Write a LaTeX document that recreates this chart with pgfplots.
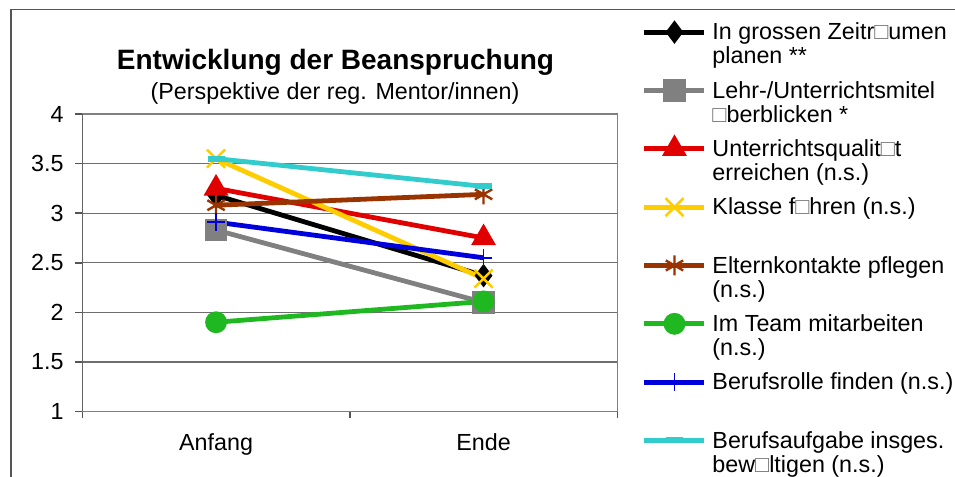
\documentclass[border=0pt]{standalone}
\usepackage{pgfplots}
\pgfplotsset{compat=1.18}
\usepackage{fontspec}
\setmainfont{Liberation Sans}

\definecolor{sGray}{HTML}{808080}
\definecolor{sRed}{HTML}{E00000}
\definecolor{sYellow}{HTML}{FFCC00}
\definecolor{sBrown}{HTML}{993300}
\definecolor{sGreen}{HTML}{20B820}
\definecolor{sBlue}{HTML}{0000DD}
\definecolor{sCyan}{HTML}{33CCCC}
\definecolor{frameC}{HTML}{555555}
\definecolor{gridC}{HTML}{6E6E6E}

% missing-glyph box as in the original export
\newcommand\bx{{\color{black!55}□}}
\newcommand\entry[1]{\parbox[t]{135pt}{#1}}

\begin{document}
\begin{tikzpicture}
\path[use as bounding box] (0,0) rectangle (477.5pt,238.5pt);
\draw[frameC, line width=0.75pt] (5.5pt,-5pt) -- (5.5pt,233.85pt) -- (485pt,233.85pt);

\node[anchor=base, font=\bfseries\fontsize{14}{16}\selectfont] at (167.75pt,203.5pt) {Entwicklung der Beanspruchung};
\node[anchor=base, font=\fontsize{11.65}{14}\selectfont] at (167.5pt,188.5pt) {(Perspektive der reg. Mentor/innen)};

\begin{axis}[
  at={(41.15pt,32.75pt)}, anchor=south west,
  scale only axis, width=267.5pt, height=148.75pt,
  xmin=-0.5, xmax=1.5, ymin=1, ymax=4,
  xtick={0,1}, xticklabels={Anfang,Ende},
  minor xtick={-0.5,0.5,1.5},
  ytick={1,1.5,2,2.5,3,3.5,4},
  tick align=outside, tick pos=left,
  major tick length=3.5pt, minor tick length=3.5pt,
  major x tick style={draw=none},
  minor x tick style={draw=frameC, line width=0.75pt},
  major y tick style={draw=frameC, line width=0.75pt},
  ymajorgrids,
  grid style={draw=gridC, line width=0.6pt},
  axis line style={draw=sGray, line width=0.75pt},
  ticklabel style={font=\fontsize{11.65}{14}\selectfont},
  /pgf/number format/assume math mode=true,
  yticklabel style={anchor=east, inner sep=0pt, xshift=-5.65pt},
  xticklabel style={anchor=north, inner sep=0pt, yshift=-7.25pt},
  every axis plot/.append style={line width=2.4pt},
  legend image code/.code={
    \draw[mark repeat=2, mark phase=2, #1] plot coordinates {(0pt,3.8pt) (15pt,3.8pt) (30pt,3.8pt)};
  },
  legend style={
    at={(1.0456,1.3116)}, anchor=north west,
    draw=none, fill=none, inner sep=0pt, row sep=0pt, column sep=2.8pt,
    font=\fontsize{11.65}{12.1}\selectfont,
    nodes={inner sep=0pt, text height=9pt, text depth=20.17pt},
    cells={anchor=base west},
  },
]
\addplot[black, mark=diamond*, mark size=3.9pt, mark options={solid}]
  coordinates {(0,3.18) (1,2.37)};
\addlegendentry{\entry{In grossen Zeitr\bx umen\\planen **}}

\addplot[sGray, mark=square*, mark size=4.4pt, mark options={solid}]
  coordinates {(0,2.83) (1,2.10)};
\addlegendentry{\entry{Lehr-/Unterrichtsmitel\\\bx berblicken *}}

\addplot[sRed, mark=triangle*, mark size=4.8pt, mark options={solid}]
  coordinates {(0,3.25) (1,2.75)};
\addlegendentry{\entry{Unterrichtsqualit\bx t\\erreichen (n.s.)}}

\addplot[sYellow, mark=x, mark size=6.4pt, mark options={solid, line width=1.2pt}]
  coordinates {(0,3.55) (1,2.34)};
\addlegendentry{\entry{Klasse f\bx hren (n.s.)}}

\addplot[sBrown, mark=asterisk, mark size=5pt, mark options={solid, line width=1.2pt}]
  coordinates {(0,3.08) (1,3.19)};
\addlegendentry{\entry{Elternkontakte pflegen\\(n.s.)}}

\addplot[sGreen, mark=*, mark size=4.25pt, mark options={solid}]
  coordinates {(0,1.90) (1,2.11)};
\addlegendentry{\entry{Im Team mitarbeiten\\(n.s.)}}

\addplot[sBlue, mark=+, mark size=4.4pt, mark options={solid, line width=0.9pt}]
  coordinates {(0,2.91) (1,2.55)};
\addlegendentry{\entry{Berufsrolle finden (n.s.)}}

\addplot[sCyan, mark=-, mark size=4.25pt, mark options={solid, line width=3pt}]
  coordinates {(0,3.55) (1,3.27)};
\addlegendentry{\entry{Berufsaufgabe insges.\\bew\bx ltigen (n.s.)}}

\draw[frameC, line width=0.75pt] (rel axis cs:0,0) -- (rel axis cs:0,1);
\end{axis}
\end{tikzpicture}
\end{document}
